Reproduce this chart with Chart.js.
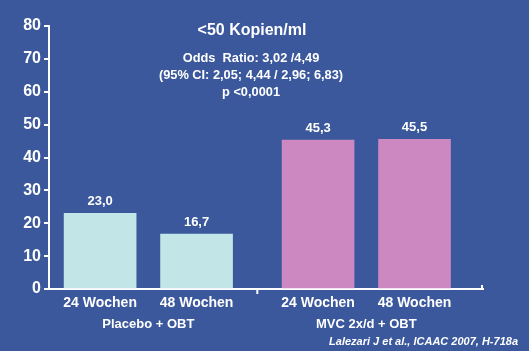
<!DOCTYPE html>
<html>
<head>
<meta charset="utf-8">
<script src="https://cdn.jsdelivr.net/npm/chart.js@4/dist/chart.umd.min.js"></script>
<style>
  html, body { margin: 0; padding: 0; background: #3a589b; }
  #wrap { width: 529px; height: 351px; }
</style>
</head>
<body>
<div id="wrap"><canvas id="chart"></canvas></div>
<script>
// chart values
const weeks = ["24 Wochen", "48 Wochen", "24 Wochen", "48 Wochen"];
const groups = ["Placebo + OBT", "MVC 2x/d + OBT"];
const responders = [23.0, 16.7, 45.3, 45.5];
const yTicks = [0, 10, 20, 30, 40, 50, 60, 70, 80];
const title = "<50 Kopien/ml";
const notes = ["Odds  Ratio: 3,02 /4,49", "(95% CI: 2,05; 4,44 / 2,96; 6,83)", "p <0,0001"];
const source = "Lalezari J et al., ICAAC 2007, H-718a";

const FONT = "'Liberation Sans', Arial, sans-serif";
const cyan = "#c2e6e8";
const pink = "#cc88c0";

// x position of each bar: one step apart, extra gap between the two groups
const xOf = i => i + 0.53 + (i >= 2 ? 0.26 : 0);
const points = responders.map((v, i) => ({ x: xOf(i), y: v }));

const textPlugin = {
  id: "texts",
  afterDatasetsDraw(chart) {
    const ctx = chart.ctx;
    const xs = chart.scales.x;
    ctx.save();
    ctx.fillStyle = "#fff";
    ctx.textAlign = "center";
    ctx.textBaseline = "middle";

    // value labels above bars
    ctx.font = "bold 13px " + FONT;
    chart.getDatasetMeta(0).data.forEach((bar, i) => {
      ctx.fillText(responders[i].toFixed(1).replace(".", ","), bar.x, bar.y - 12);
    });

    // title and notes
    ctx.font = "bold 16px " + FONT;
    ctx.fillText(title, 252, 31);
    ctx.font = "bold 12.8px " + FONT;
    ctx.fillText(notes[0], 251, 58);
    ctx.fillText(notes[1], 251, 75);
    ctx.fillText(notes[2], 251, 92);

    // group labels
    ctx.font = "bold 13px " + FONT;
    ctx.fillText(groups[0], (xs.getPixelForValue(xOf(0)) + xs.getPixelForValue(xOf(1))) / 2, 324);
    ctx.fillText(groups[1], (xs.getPixelForValue(xOf(2)) + xs.getPixelForValue(xOf(3))) / 2, 324);

    // divider tick and end tick on x axis
    ctx.strokeStyle = "#fff";
    ctx.lineWidth = 2;
    const yb = chart.scales.y.getPixelForValue(0);
    const xd = xs.getPixelForValue((xOf(1) + xOf(2)) / 2);
    ctx.beginPath();
    ctx.moveTo(xd, yb); ctx.lineTo(xd, yb + 5);
    ctx.moveTo(xs.right - 1, yb); ctx.lineTo(xs.right - 1, yb - 4);
    ctx.stroke();

    // source
    ctx.font = "italic bold 11px " + FONT;
    ctx.textAlign = "right";
    ctx.fillText(source, 518, 342);
    ctx.restore();
  }
};

new Chart(document.getElementById("chart"), {
  type: "bar",
  data: {
    datasets: [{
      data: points,
      backgroundColor: [cyan, cyan, pink, pink],
      borderWidth: 0,
      barThickness: 72
    }]
  },
  options: {
    responsive: true,
    maintainAspectRatio: false,
    animation: false,
    layout: { padding: { top: 26, right: 46, left: 0, bottom: 0 } },
    plugins: { legend: { display: false }, tooltip: { enabled: false } },
    scales: {
      x: {
        type: "linear",
        offset: false,
        min: 0,
        max: 4.5,
        afterBuildTicks: s => { s.ticks = weeks.map((w, i) => ({ value: xOf(i) })); },
        afterFit: s => { s.height = 62; },
        ticks: {
          color: "#fff",
          font: { family: FONT, size: 14, weight: "bold" },
          padding: 6,
          maxRotation: 0,
          autoSkip: false,
          callback: (v, i) => weeks[i]
        },
        grid: { display: false, drawTicks: false },
        border: { color: "#fff", width: 2 }
      },
      y: {
        min: 0,
        max: 80,
        afterBuildTicks: s => { s.ticks = yTicks.map(v => ({ value: v })); },
        afterFit: s => { s.width = 49; },
        ticks: {
          color: "#fff",
          font: { family: FONT, size: 16, weight: "bold" },
          padding: 3
        },
        grid: { drawOnChartArea: false, drawTicks: true, tickLength: 5, color: "#fff", lineWidth: 2 },
        border: { color: "#fff", width: 2 }
      }
    }
  },
  plugins: [textPlugin]
});
</script>
</body>
</html>
